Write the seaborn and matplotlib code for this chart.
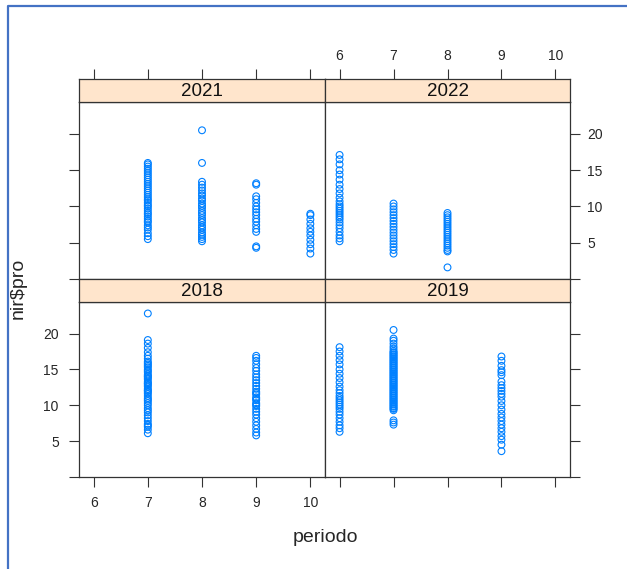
"""
plot.py
Lattice-style xyplot of nir$pro against periodo, one panel per year.
"""

import numpy as np
import pandas as pd

import matplotlib
matplotlib.use("Agg")
import matplotlib.pyplot as plt
from matplotlib.lines import Line2D
import seaborn as sns

sns.set_style("white")
plt.rcParams["font.family"] = ["Liberation Sans", "DejaVu Sans"]


# ── Data ──────────────────────────────────────────────────

years = ["2021", "2022", "2018", "2019"]      # panel order, top row first
x_ticks = [6, 7, 8, 9, 10]
y_ticks = [0, 5, 10, 15, 20]
y_tick_labels = ["", "5", "10", "15", "20"]

pro_2021_p7 = [5.5, 5.9, 6.3, 6.8, 7.1, 7.4, 7.8, 8.0, 8.3, 8.6, 8.9, 9.1,
               9.4, 9.7, 10.0, 10.2, 10.5, 10.8, 11.0, 11.3, 11.6, 11.9,
               12.2, 12.5, 12.8, 13.1, 13.4, 13.7, 14.0, 14.3, 14.6, 14.9,
               15.2, 15.5, 15.8, 16.0]
pro_2021_p8 = [20.5, 16.0, 13.4, 13.0, 12.6, 12.2, 11.8, 11.5, 11.1, 10.8,
               10.4, 10.1, 9.8, 9.4, 9.1, 8.8, 8.4, 8.1, 7.8, 7.4, 7.1, 6.8,
               6.4, 6.1, 5.8, 5.5, 5.2]
pro_2021_p9 = [13.2, 13.0, 11.4, 11.0, 10.5, 10.0, 9.6, 9.2, 8.8, 8.3, 7.9,
               7.4, 6.9, 6.5, 4.5, 4.3]
pro_2021_p10 = [9.0, 8.8, 8.2, 7.6, 7.0, 6.5, 6.0, 5.4, 4.8, 4.2, 3.5]

pro_2022_p6 = [17.1, 16.5, 15.8, 15.0, 14.4, 13.7, 13.0, 12.4, 11.8, 11.2,
               10.7, 10.3, 10.0, 9.7, 9.4, 9.1, 8.8, 8.5, 8.2, 7.8, 7.4, 7.0,
               6.5, 6.0, 5.6, 5.2]
pro_2022_p7 = [10.4, 10.0, 9.6, 9.2, 8.8, 8.4, 8.0, 7.6, 7.2, 6.8, 6.4, 6.0,
               5.6, 5.2, 4.8, 4.4, 4.0, 3.5]
pro_2022_p8 = [9.1, 8.8, 8.5, 8.2, 7.9, 7.6, 7.3, 7.0, 6.7, 6.4, 6.1, 5.8,
               5.5, 5.2, 4.9, 4.6, 4.3, 4.0, 3.8, 1.6]

pro_2018_p7 = [22.8, 19.1, 18.6, 18.0, 17.4, 16.9, 16.5, 16.1, 15.9, 15.7,
               15.5, 15.3, 15.0, 14.8, 14.6, 14.3, 14.1, 14.0, 13.8, 13.6,
               13.3, 13.1, 13.0, 12.8, 12.6, 12.3, 12.1, 12.0, 11.8, 11.6,
               11.3, 11.0, 10.8, 10.6, 10.3, 10.0, 9.6, 9.3, 9.0, 8.6, 8.2,
               7.8, 7.4, 7.2, 7.0, 6.6, 6.1]
pro_2018_p9 = [16.9, 16.6, 16.2, 15.7, 15.2, 14.8, 14.3, 13.9, 13.5, 13.1,
               12.7, 12.3, 11.9, 11.7, 11.5, 11.1, 10.9, 10.7, 10.3, 10.1,
               9.9, 9.5, 9.1, 8.7, 8.2, 7.7, 7.2, 6.7, 6.2, 5.8]

pro_2019_p6 = [18.1, 17.5, 16.9, 16.3, 15.7, 15.0, 14.4, 13.8, 13.2, 12.6,
               12.1, 11.7, 11.3, 11.0, 10.7, 10.4, 10.1, 9.8, 9.5, 9.1, 8.7,
               8.2, 7.7, 7.2, 6.8, 6.3]
pro_2019_p7 = [20.5, 19.3, 19.0, 18.6, 18.2, 17.9, 17.6, 17.4, 17.3, 17.1,
               17.0, 16.8, 16.7, 16.5, 16.4, 16.2, 16.1, 15.9, 15.8, 15.6,
               15.5, 15.3, 15.2, 15.0, 14.9, 14.7, 14.6, 14.4, 14.3, 14.1,
               14.0, 13.8, 13.7, 13.5, 13.4, 13.2, 13.1, 12.9, 12.8, 12.6,
               12.5, 12.3, 12.2, 12.0, 11.9, 11.7, 11.6, 11.4, 11.3, 11.1,
               11.0, 10.8, 10.7, 10.5, 10.4, 10.2, 10.1, 9.9, 9.8, 9.6, 9.5,
               9.3, 7.9, 7.6, 7.3]
pro_2019_p9 = [16.8, 16.2, 15.5, 14.9, 14.6, 14.2, 13.3, 12.8, 12.4, 12.0,
               11.6, 11.2, 10.6, 10.0, 9.4, 8.8, 8.3, 7.8, 7.3, 6.8, 6.3, 5.7,
               5.2, 4.5, 3.6]

series = [
    ("2021", 7, pro_2021_p7), ("2021", 8, pro_2021_p8),
    ("2021", 9, pro_2021_p9), ("2021", 10, pro_2021_p10),
    ("2022", 6, pro_2022_p6), ("2022", 7, pro_2022_p7),
    ("2022", 8, pro_2022_p8),
    ("2018", 7, pro_2018_p7), ("2018", 9, pro_2018_p9),
    ("2019", 6, pro_2019_p6), ("2019", 7, pro_2019_p7),
    ("2019", 9, pro_2019_p9),
]
nir = pd.DataFrame(
    [{"anio": y, "periodo": p, "pro": v} for y, p, vals in series for v in vals]
)


# ── Layout (pixel boxes) ──────────────────────────────────

W, H = 627, 569
COLS = [(79, 325), (325, 570)]
ROWS = [(102, 279), (302, 477)]
STRIP = 23
XLIM = (5.73, 10.27)
YLIM = (0, 24.4)
EDGE = "#333333"
POINT = "#0080ff"


def box(x0, y0, x1, y1):
    return [x0 / W, 1 - y1 / H, (x1 - x0) / W, (y1 - y0) / H]


fig = plt.figure(figsize=(W / 100, H / 100), dpi=100)

for i, year in enumerate(years):
    r, c = divmod(i, 2)
    (x0, x1), (y0, y1) = COLS[c], ROWS[r]

    ax = fig.add_axes(box(x0, y0, x1, y1))
    sns.scatterplot(data=nir[nir["anio"] == year], x="periodo", y="pro",
                    ax=ax, marker="o", s=24, color=POINT,
                    facecolors="none", edgecolor=POINT, linewidth=0.8)
    ax.set_xlim(*XLIM)
    ax.set_ylim(*YLIM)
    ax.set_xlabel("")
    ax.set_ylabel("")
    for sp in ax.spines.values():
        sp.set_color(EDGE)
        sp.set_linewidth(0.9)

    # x ticks: bottom row only on the data panel
    ax.set_xticks(x_ticks)
    if r == 1:
        ax.tick_params(axis="x", bottom=True, top=False, direction="out",
                       length=7.5, width=0.8, color=EDGE, pad=6,
                       labelsize=10, labelbottom=(c == 0))
    else:
        ax.tick_params(axis="x", bottom=False, top=False,
                       labelbottom=False)

    # y ticks: left column on left, right column on right
    ax.set_yticks(y_ticks)
    ax.set_yticklabels(y_tick_labels)
    if c == 0:
        ax.tick_params(axis="y", left=True, right=False, direction="out",
                       length=7.5, width=0.8, color=EDGE, pad=7,
                       labelsize=10, labelleft=(r == 1), labelright=False)
    else:
        ax.tick_params(axis="y", left=False, right=True, direction="out",
                       length=7.5, width=0.8, color=EDGE, pad=5,
                       labelsize=10, labelleft=False, labelright=(r == 0))

    # strip above the panel
    sx = fig.add_axes(box(x0, y0 - STRIP, x1, y0))
    sx.set_facecolor("#ffe5cc")
    sx.set_xlim(*XLIM)
    sx.set_yticks([])
    for sp in sx.spines.values():
        sp.set_color(EDGE)
        sp.set_linewidth(0.9)
    sx.text(0.5, 0.45, year, transform=sx.transAxes, ha="center",
            va="center", fontsize=13.5, color="#111111")
    if r == 0:
        sx.set_xticks(x_ticks)
        sx.tick_params(axis="x", bottom=False, top=True, direction="out",
                       length=7.5, width=0.8, color=EDGE, pad=4,
                       labelsize=10, labelbottom=False, labeltop=(c == 1))
    else:
        sx.set_xticks([])

fig.text(325 / W, 1 - 538 / H, "periodo", ha="center", va="center",
         fontsize=14)
fig.text(18 / W, 1 - 288 / H, "nir$pro", ha="center", va="center",
         rotation=90, fontsize=14)

# blue frame on the left and top
fig.add_artist(Line2D([8 / W, 8 / W, 1.0], [0.0, 1 - 6 / H, 1 - 6 / H],
                      transform=fig.transFigure, color="#4472c4", lw=1.6))

plt.savefig("out.png", dpi=100)
plt.close()
